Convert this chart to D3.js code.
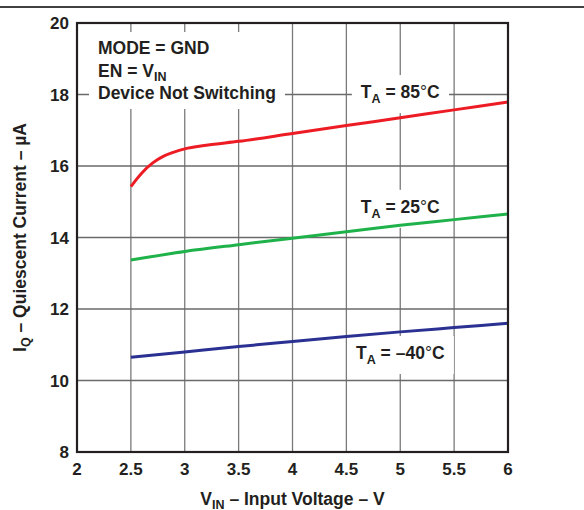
<!DOCTYPE html>
<html>
<head>
<meta charset="utf-8">
<script src="https://cdn.jsdelivr.net/npm/d3@7"></script>
<style>
  body { margin: 0; background: #fff; }
  svg { display: block; }
</style>
</head>
<body>
<div id="chart"></div>
<script>
// データ
const xTicks = [2, 2.5, 3, 3.5, 4, 4.5, 5, 5.5, 6];
const yTicks = [8, 10, 12, 14, 16, 18, 20];

const vin85 = [2.5, 2.55, 2.6, 2.7, 2.8, 2.9, 3.0, 3.2, 3.5, 4, 4.5, 5, 5.5, 6];
const iq85 = [15.42, 15.62, 15.8, 16.08, 16.27, 16.39, 16.48, 16.58, 16.69, 16.91, 17.13, 17.35, 17.57, 17.79];

const vin25 = [2.5, 3, 3.5, 4, 4.5, 5, 5.5, 6];
const iq25 = [13.37, 13.61, 13.8, 13.98, 14.16, 14.34, 14.5, 14.66];

const vinM40 = [2.5, 3, 3.5, 4, 4.5, 5, 5.5, 6];
const iqM40 = [10.65, 10.8, 10.95, 11.09, 11.23, 11.36, 11.48, 11.6];

const seriesNames = ['85', '25', '–40'];
const seriesColors = ['#ed1c24', '#1fb24a', '#2b3192'];
// ラベルの位置（ベースラインの値）
const labelV = [5, 5, 5];
const labelI = [17.9, 14.69, 10.6];

const notes = ['MODE = GND', 'EN = V|IN', 'Device Not Switching'];

// 大きさ
const width = 584;
const height = 510;
const margin = {top: 23, right: 76, bottom: 58, left: 77};
const innerWidth = width - margin.left - margin.right;
const innerHeight = height - margin.top - margin.bottom;

const font = '"Liberation Sans", Arial, Helvetica, sans-serif';
const ink = '#231f20';
const fs = 17.5;
const subFs = 12.5;

const svg = d3.select('#chart')
  .append('svg')
  .attr('width', width)
  .attr('height', height)
  .attr('font-family', font)
  .attr('font-weight', 'bold')
  .attr('fill', ink);

// 上の区切り線
svg.append('line')
  .attr('x1', 0).attr('x2', width)
  .attr('y1', 7).attr('y2', 7)
  .attr('stroke', '#000')
  .attr('stroke-width', 1.5);

const g = svg.append('g')
  .attr('transform', `translate(${margin.left},${margin.top})`);

const x = d3.scaleLinear().domain([2, 6]).range([0, innerWidth]);
const y = d3.scaleLinear().domain([8, 20]).range([innerHeight, 0]);

// グリッド
g.append('g')
  .selectAll('line')
  .data(xTicks.slice(1, -1))
  .enter()
  .append('line')
  .attr('x1', d => x(d)).attr('x2', d => x(d))
  .attr('y1', 0).attr('y2', innerHeight)
  .attr('stroke', '#7a7a7a')
  .attr('stroke-width', 1.3);

g.append('g')
  .selectAll('line')
  .data(yTicks.slice(1, -1))
  .enter()
  .append('line')
  .attr('x1', 0).attr('x2', innerWidth)
  .attr('y1', d => y(d)).attr('y2', d => y(d))
  .attr('stroke', '#6a6a6a')
  .attr('stroke-width', 1.3);

// 白い下地
function whiteBox(parent, textSel, padX, padY) {
  const b = textSel.node().getBBox();
  parent.insert('rect', () => textSel.node())
    .attr('x', b.x - padX)
    .attr('y', b.y - padY)
    .attr('width', b.width + padX * 2)
    .attr('height', b.height + padY * 2)
    .attr('fill', '#fff');
}

// 条件の注記
const noteG = g.append('g');
const noteText = noteG.append('text')
  .attr('font-size', fs);
notes.forEach((n, i) => {
  const parts = n.split('|');
  noteText.append('tspan').attr('x', 21).attr('y', 31 + i * 22.5).text(parts[0]);
  if (parts[1]) {
    noteText.append('tspan')
      .attr('dy', 4)
      .attr('font-size', subFs)
      .text(parts[1]);
  }
});
whiteBox(noteG, noteText, 9, 6);

// 曲線
const line = d3.line()
  .x(d => x(d[0]))
  .y(d => y(d[1]))
  .curve(d3.curveMonotoneX);

const series = [
  d3.zip(vin85, iq85),
  d3.zip(vin25, iq25),
  d3.zip(vinM40, iqM40)
];

// ラベル
series.forEach((s, i) => {
  const lg = g.append('g');
  const t = lg.append('text')
    .attr('x', x(labelV[i]))
    .attr('y', y(labelI[i]))
    .attr('text-anchor', 'middle')
    .attr('font-size', fs);
  t.append('tspan').text('T');
  t.append('tspan').attr('dy', 5).attr('font-size', subFs).text('A');
  t.append('tspan').attr('dy', -5).text(' = ' + seriesNames[i]);
  t.append('tspan').attr('font-weight', 'normal').text('°');
  t.append('tspan').text('C');
  whiteBox(lg, t, 9, 7);
});

g.append('g')
  .selectAll('path')
  .data(series)
  .enter()
  .append('path')
  .attr('d', line)
  .attr('fill', 'none')
  .attr('stroke', (d, i) => seriesColors[i])
  .attr('stroke-width', 3);

// 枠
g.append('rect')
  .attr('width', innerWidth)
  .attr('height', innerHeight)
  .attr('fill', 'none')
  .attr('stroke', ink)
  .attr('stroke-width', 2.2);

// 目盛りのラベル
g.append('g')
  .selectAll('text')
  .data(xTicks)
  .enter()
  .append('text')
  .attr('x', d => x(d))
  .attr('y', innerHeight + 23)
  .attr('text-anchor', 'middle')
  .attr('font-family', font)
  .attr('font-weight', 'bold')
  .attr('font-size', 17)
  .attr('fill', ink)
  .text(d => String(d));

g.append('g')
  .selectAll('text')
  .data(yTicks)
  .enter()
  .append('text')
  .attr('x', -8)
  .attr('y', d => y(d) + 6)
  .attr('text-anchor', 'end')
  .attr('font-family', font)
  .attr('font-weight', 'bold')
  .attr('font-size', 17)
  .attr('fill', ink)
  .text(d => String(d));

// 軸タイトル
const xTitle = svg.append('text')
  .attr('x', margin.left + innerWidth / 2)
  .attr('y', 505)
  .attr('text-anchor', 'middle')
  .attr('font-size', fs);
xTitle.append('tspan').text('V');
xTitle.append('tspan').attr('dy', 4).attr('font-size', subFs).text('IN');
xTitle.append('tspan').attr('dy', -4).text(' – Input Voltage – V');

const yTitle = svg.append('text')
  .attr('transform', `translate(26,${margin.top + innerHeight / 2}) rotate(-90)`)
  .attr('text-anchor', 'middle')
  .attr('font-size', fs);
yTitle.append('tspan').text('I');
yTitle.append('tspan').attr('dy', 4).attr('font-size', subFs).text('Q');
yTitle.append('tspan').attr('dy', -4).text(' – Quiescent Current – µA');
</script>
</body>
</html>
